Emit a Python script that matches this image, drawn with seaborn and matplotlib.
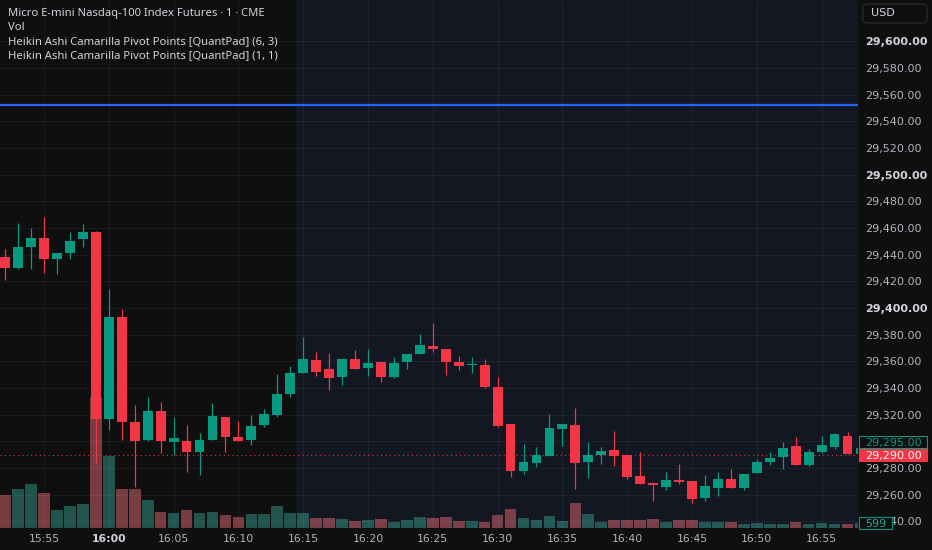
import numpy as np
import pandas as pd
import seaborn as sns
import matplotlib.pyplot as plt
from matplotlib.patches import Rectangle, FancyBboxPatch
from matplotlib.transforms import blended_transform_factory

# Heikin Ashi 1-minute candles, index 0 = 16:00 (first candle 15:52)
minute = list(range(-8, 59))
ha_open = [29438.5, 29429.75, 29446, 29452.25, 29436.5, 29441.5, 29451.5, 29457.25,
           29316.5, 29393.5, 29314.75, 29301, 29323, 29299.75, 29300.5, 29291.75,
           29301, 29318, 29303.5, 29301, 29312, 29319.75, 29335.5, 29351,
           29361, 29354.25, 29348, 29361.75, 29354.75, 29359.75, 29348.5, 29359.25,
           29365.25, 29371.75, 29369.25, 29359.75, 29357, 29357.25, 29341, 29313,
           29277.75, 29284, 29289.25, 29309.25, 29312.25, 29284.75, 29290, 29293.5,
           29289.75, 29274.25, 29269, 29266, 29271, 29270.5, 29257.25, 29265,
           29271.5, 29264.75, 29276, 29284.75, 29288, 29296.5, 29282.25, 29292,
           29296, 29304, 29290.5]
ha_high = [29444, 29464, 29459.75, 29468.5, 29441.5, 29457, 29463, 29457.5,
           29414, 29399, 29327.25, 29333, 29329.5, 29318, 29312, 29306,
           29328.5, 29318, 29315.5, 29319.75, 29324, 29350.5, 29356.5, 29378,
           29367.25, 29366.5, 29361.75, 29368.5, 29369, 29359.75, 29363.5, 29365.25,
           29380.25, 29389, 29369.25, 29364, 29363.5, 29361.5, 29348.5, 29313,
           29298, 29295.5, 29320.5, 29312.75, 29324.75, 29299.25, 29296, 29308,
           29289.75, 29291.75, 29269, 29277, 29283, 29270.5, 29274.75, 29277.25,
           29279, 29275.5, 29286.75, 29291.75, 29299.25, 29303, 29294, 29304,
           29306, 29306.75, 29297]
ha_low = [29421, 29429, 29429, 29426, 29425.5, 29437, 29445.5, 29283.5,
          29308.5, 29301, 29266, 29300, 29291, 29289.75, 29277, 29274.75,
          29301, 29292.25, 29300.5, 29297.25, 29311, 29318, 29333.5, 29351,
          29349.25, 29338.5, 29342.25, 29354.25, 29349, 29344.75, 29347.25, 29354,
          29365.25, 29366.75, 29349.75, 29353.5, 29351, 29340.25, 29311, 29273.5,
          29275.5, 29281, 29289.25, 29296.5, 29264.25, 29272.25, 29283, 29281.75,
          29272, 29268, 29255.5, 29263.5, 29268, 29254, 29255.5, 29259,
          29264.75, 29263.5, 29276, 29282.25, 29279.25, 29282.25, 29281.5, 29291,
          29294, 29290.5, 29289]
ha_close = [29429.75, 29446, 29452.25, 29436.5, 29441.5, 29450.25, 29457.25, 29316.5,
            29393, 29314.75, 29300.5, 29323, 29300.5, 29302.25, 29291.75, 29301,
            29319, 29303, 29300.5, 29311.75, 29320.5, 29335.5, 29351, 29361.5,
            29352.25, 29347.25, 29361.75, 29354.25, 29358.5, 29348.5, 29359, 29365.25,
            29372.25, 29369.25, 29359.25, 29356.75, 29358, 29341, 29311.75, 29277.75,
            29284.25, 29289.75, 29309.75, 29312.75, 29283.5, 29289.75, 29292.75, 29289.25,
            29273, 29268, 29267.5, 29271, 29269.75, 29256.75, 29266.5, 29271.75,
            29264.75, 29275.5, 29284.75, 29287.25, 29294.75, 29282.25, 29292.25, 29297.25,
            29305.25, 29290.5, 29295]
volume = [3600, 4260, 4810, 3850, 2010, 2420, 2670, 14410,
          7890, 4260, 4320, 3050, 1730, 1650, 2010, 1650,
          1790, 1430, 1180, 1570, 1510, 2390, 1680, 1680,
          1130, 1130, 990, 800, 880, 1020, 630, 850,
          1210, 1100, 1210, 740, 800, 690, 1460, 2120,
          1130, 850, 1290, 740, 2720, 1510, 690, 910,
          850, 850, 960, 660, 880, 910, 660, 630,
          690, 410, 520, 410, 410, 630, 440, 550,
          410, 470, 599]

time_ticks = list(range(-5, 60, 5))
time_labels = ["15:55", "16:00", "16:05", "16:10", "16:15", "16:20", "16:25",
               "16:30", "16:35", "16:40", "16:45", "16:50", "16:55"]
price_ticks = list(range(29240, 29601, 20))

pivot_level = 29552.25
last_price = 29290
ha_last = 29295
last_volume = 599
session_start = 14.45

legend_lines = ["Micro E-mini Nasdaq-100 Index Futures \u00b7 1 \u00b7 CME",
                "Vol",
                "Heikin Ashi Camarilla Pivot Points [QuantPad] (6, 3)",
                "Heikin Ashi Camarilla Pivot Points [QuantPad] (1, 1)"]

UP, DOWN = "#089981", "#f23645"
VOL_UP, VOL_DOWN = "#22ab94", "#f7525f"
BG, BG_SESSION = "#0f0f0f", "#131722"
TXT, TXT_DIM = "#d1d4dc", "#b2b5be"

sns.set_theme(style="dark")
plt.rcParams["font.family"] = ["DejaVu Sans"]

W, H = 932, 550
fig = plt.figure(figsize=(W / 100, H / 100), dpi=100, facecolor=BG)
rect = [0, 22 / H, 858 / W, 528 / H]
xlim = (-8.395, 57.81)
ylim = (29235, 29631)
vol_top = 528 * 110

# volume pane underneath
vax = fig.add_axes(rect)
vax.set_facecolor(BG_SESSION)
vax.axvspan(xlim[0] - 1, session_start, color=BG, lw=0, zorder=0)
df = pd.DataFrame({"minute": minute, "volume": volume,
                   "dir": ["up" if c >= o else "down" for o, c in zip(ha_open, ha_close)]})
sns.barplot(data=df, x="minute", y="volume", hue="dir", native_scale=True,
            palette={"up": VOL_UP, "down": VOL_DOWN}, dodge=False, width=0.9,
            errorbar=None, legend=False, alpha=0.5, linewidth=0, ax=vax)
vax.set_xlim(xlim)
vax.set_ylim(0, vol_top)
vax.set_xticks([])
vax.set_yticks([])
vax.set_xlabel("")
vax.set_ylabel("")
for s in vax.spines.values():
    s.set_visible(False)

# price pane on top
ax = fig.add_axes(rect)
ax.set_facecolor("none")
ax.set_xlim(xlim)
ax.set_ylim(ylim)

x = np.array(minute)
o, hi, lo, c = map(np.array, (ha_open, ha_high, ha_low, ha_close))
cols = np.where(c >= o, UP, DOWN)
ax.vlines(x, lo, hi, colors=cols, lw=0.9, zorder=3)
ax.bar(x, np.maximum(np.abs(c - o), 0.6), bottom=np.minimum(o, c), width=0.76,
       color=cols, lw=0, zorder=4)

ax.axhline(pivot_level, color="#2962ff", lw=1.6, zorder=2)
ax.axhline(last_price, color=DOWN, lw=0.9, ls=(0, (1, 2.5)), alpha=0.8, zorder=2)

ax.set_xticks(time_ticks)
ax.set_xticklabels(time_labels)
ax.set_yticks(price_ticks)
ax.set_yticklabels([f"{p:,.2f}" for p in price_ticks])
ax.yaxis.tick_right()
ax.grid(True, color="white", alpha=0.05, lw=0.8)
ax.set_axisbelow(True)
ax.tick_params(axis="y", length=0, pad=5, labelsize=8, labelcolor=TXT_DIM)
ax.tick_params(axis="x", length=0, pad=4, labelsize=7.8, labelcolor=TXT_DIM)
for p, lab in zip(price_ticks, ax.get_yticklabels()):
    if p % 100 == 0:
        lab.set_fontweight("bold")
        lab.set_color(TXT)
for t, lab in zip(time_ticks, ax.get_xticklabels()):
    if t == 0:
        lab.set_fontweight("bold")
        lab.set_color(TXT)
for s in ax.spines.values():
    s.set_visible(False)

# price-scale labels
px = (ylim[1] - ylim[0]) / 528
trans = blended_transform_factory(ax.transAxes, ax.transData)
bw = 68 / 858
bh = 12.5 * px
ax.add_patch(Rectangle((1 + 1 / 858, last_price - bh / 2), bw, bh, transform=trans,
                       facecolor=DOWN, edgecolor=DOWN, lw=0.8, clip_on=False, zorder=10))
ax.text(1 + 1 / 858 + bw / 2, last_price, f"{last_price:,.2f}", transform=trans,
        ha="center", va="center_baseline", color="white", fontsize=8, zorder=11, clip_on=False)
ha_y = last_price + bh
ax.add_patch(Rectangle((1 + 1 / 858, ha_y - bh / 2), bw, bh, transform=trans,
                       facecolor=BG, edgecolor=UP, lw=0.8, clip_on=False, zorder=10))
ax.text(1 + 1 / 858 + bw / 2, ha_y, f"{ha_last:,.2f}", transform=trans,
        ha="center", va="center_baseline", color=UP, fontsize=8, zorder=11, clip_on=False)

vtrans = blended_transform_factory(ax.transAxes, vax.transData)
vh = 12 * vol_top / 528
ax.add_patch(Rectangle((1 + 1 / 858, last_volume - vh / 2), 33 / 858, vh, transform=vtrans,
                       facecolor=BG, edgecolor=UP, lw=0.8, clip_on=False, zorder=10))
ax.text(1 + 17.5 / 858, last_volume, str(last_volume), transform=vtrans,
        ha="center", va="center_baseline", color=VOL_UP, fontsize=8, zorder=11, clip_on=False)

# currency badge
fig.patches.append(FancyBboxPatch((863 / W, 1 - 23 / H), 64 / W, 19 / H,
                                  boxstyle="round,pad=0,rounding_size=0.006",
                                  transform=fig.transFigure, facecolor="none",
                                  edgecolor="#2a2e39", lw=0.8))
fig.text(871 / W, 1 - 13 / H, "USD", color=TXT, fontsize=8, va="center")

# legend lines, top left
for k, line in enumerate(legend_lines):
    fig.text(8 / W, 1 - (13.5 + 14 * k) / H, line, color=TXT, fontsize=8.1,
             fontweight="bold" if k == 0 else "normal", va="center",
             family=["Noto Sans", "DejaVu Sans"])

fig.savefig("out.png", dpi=100, facecolor=BG)
